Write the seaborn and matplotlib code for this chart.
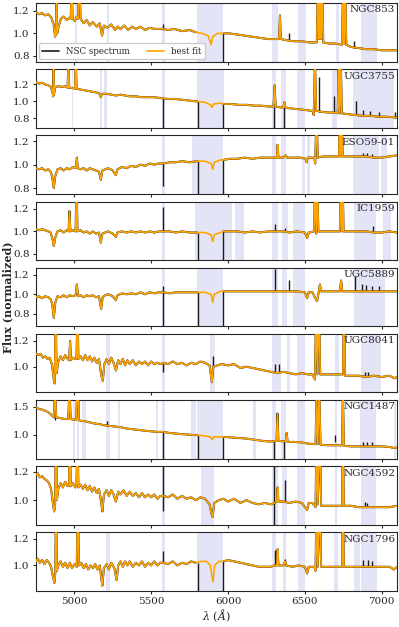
import numpy as np
import pandas as pd
import matplotlib
matplotlib.use("Agg")
import matplotlib.pyplot as plt
from matplotlib.lines import Line2D
import seaborn as sns

sns.set_theme(style="ticks")
plt.rcParams["font.family"] = ["DejaVu Serif"]
plt.rcParams["mathtext.fontset"] = "dejavuserif"
plt.rcParams["axes.linewidth"] = 0.8

names = ["NGC853", "UGC3755", "ESO59-01", "IC1959", "UGC5889",
         "UGC8041", "NGC1487", "NGC4592", "NGC1796"]
xticks = [5000, 5500, 6000, 6500, 7000]

# ---------------- NGC853 ----------------
ngc853_wl = [4750,4770,4790,4810,4830,4850,4865,4874,4880,4884,
             4888,4897,4912,4930,4950,4970,4976,4982,4988,5002,
             5016,5024,5029,5034,5040,5060,5080,5100,5120,5145,
             5165,5180,5192,5215,5240,5265,5280,5300,5325,5350,
             5375,5400,5430,5460,5490,5520,5550,5580,5610,5650,
             5700,5750,5790,5830,5870,5890,5900,5930,5970,6010,
             6060,6110,6160,6210,6260,6300,6332,6338,6344,6380,
             6430,6480,6530,6578,6586,6592,6600,6606,6612,6620,
             6660,6700,6742,6750,6756,6762,6770,6800,6850,6900,
             6950,7000,7050,7100]
ngc853_fit = [1.19,1.17,1.18,1.16,1.17,1.14,1.08,0.97,1.00,1.45,
              1.00,1.06,1.13,1.15,1.12,1.14,1.13,1.45,1.13,1.11,
              1.15,1.13,1.45,1.45,1.13,1.09,1.12,1.07,1.10,1.06,
              1.09,0.98,1.07,1.05,1.08,1.03,1.06,1.04,1.07,1.03,
              1.06,1.04,1.06,1.03,1.05,1.04,1.04,1.04,1.03,1.04,
              1.02,1.03,1.01,1.00,0.98,0.90,0.97,1.00,1.00,1.00,
              0.99,0.98,0.97,0.96,0.95,0.95,0.95,1.16,0.95,0.94,
              0.93,0.93,0.92,0.92,1.50,0.95,1.50,0.95,1.50,0.92,
              0.91,0.91,0.90,1.50,0.91,1.50,0.90,0.88,0.87,0.86,
              0.86,0.85,0.85,0.85]
ngc853_bx = [5577, 5970, 6397, 6822]
ngc853_blo = [1.03, 0.0, 0.94, 0.87]
ngc853_bhi = [1.08, 1.00, 1.00, 0.93]
ngc853_mlo = [5005, 5214, 5567, 5800, 6286, 6456, 6704, 6868]
ngc853_mhi = [5018, 5227, 5587, 5970, 6325, 6508, 6724, 6972]

# ---------------- UGC3755 ----------------
ugc3755_wl = [4750,4770,4790,4810,4830,4848,4858,4862,4864,4867,
              4875,4900,4920,4940,4956,4961,4966,4985,5004,5009,
              5014,5040,5070,5100,5130,5160,5172,5180,5210,5240,
              5270,5300,5330,5360,5400,5440,5480,5520,5560,5600,
              5650,5700,5750,5800,5850,5885,5895,5905,5950,5970,
              6020,6070,6120,6170,6220,6260,6296,6303,6310,6340,
              6360,6366,6372,6400,6450,6500,6540,6552,6558,6566,
              6574,6600,6650,6700,6714,6720,6727,6734,6741,6780,
              6830,6880,6930,6980,7030,7100]
ugc3755_fit = [1.23,1.21,1.22,1.20,1.19,1.17,1.10,1.06,1.50,1.08,
               1.17,1.18,1.17,1.18,1.16,1.50,1.16,1.16,1.15,1.50,
               1.15,1.14,1.13,1.12,1.11,1.10,1.05,1.09,1.09,1.08,
               1.07,1.08,1.07,1.06,1.06,1.05,1.05,1.05,1.04,1.03,
               1.03,1.02,1.01,1.00,0.99,0.96,0.93,0.97,0.98,0.97,
               0.97,0.96,0.96,0.95,0.95,0.94,0.94,1.19,0.94,0.93,
               0.93,0.99,0.93,0.92,0.91,0.90,0.89,0.89,0.84,1.50,
               0.89,0.88,0.87,0.87,0.86,1.50,0.86,1.50,0.86,0.85,
               0.84,0.83,0.83,0.82,0.82,0.81]
ugc3755_bx = [5577, 5802, 5970, 6300, 6364, 6595, 6689, 6835, 6880, 6925, 6985, 7085]
ugc3755_blo = [0.0, 0.0, 0.0, 0.0, 0.0, 0.88, 0.87, 0.84, 0.83, 0.83, 0.82, 0.81]
ugc3755_bhi = [1.04, 1.00, 0.97, 0.94, 0.93, 1.29, 1.06, 1.01, 0.90, 0.89, 0.87, 0.87]
ugc3755_mlo = [4985, 5168, 5194, 5567, 5800, 6286, 6345, 6449, 6678, 6815]
ugc3755_mhi = [4992, 5181, 5214, 5587, 5972, 6312, 6378, 6502, 6711, 7083]

# ---------------- ESO59-01 ----------------
eso5901_wl = [4750,4770,4790,4810,4830,4845,4855,4866,4875,4890,
              4910,4930,4950,4970,4990,5010,5016,5022,5040,5060,
              5080,5100,5120,5140,5160,5172,5182,5200,5220,5250,
              5270,5280,5310,5340,5370,5400,5430,5460,5490,5520,
              5550,5580,5620,5660,5700,5750,5800,5850,5890,5900,
              5910,5950,5970,6010,6060,6110,6160,6210,6260,6300,
              6318,6323,6328,6360,6375,6385,6420,6470,6505,6512,
              6520,6560,6568,6576,6584,6620,6680,6722,6728,6734,
              6740,6746,6752,6800,6850,6900,6950,7000,7050,7100]
eso5901_fit = [0.97,0.96,0.97,0.95,0.96,0.94,0.90,0.80,0.90,0.96,
               0.97,0.95,0.97,0.96,0.98,0.97,1.06,0.97,0.96,0.97,
               0.95,0.97,0.96,0.95,0.94,0.87,0.95,0.96,0.97,0.95,
               0.91,0.96,0.98,0.97,0.99,0.98,1.00,0.99,1.01,1.00,
               1.01,1.01,1.02,1.02,1.03,1.02,1.03,1.03,1.01,0.96,
               1.02,1.04,1.04,1.05,1.05,1.06,1.05,1.06,1.06,1.06,
               1.06,1.17,1.06,1.06,1.08,1.06,1.06,1.06,1.05,1.02,
               1.06,1.06,1.01,1.50,1.06,1.07,1.07,1.07,1.50,1.07,
               1.50,1.07,1.07,1.07,1.07,1.07,1.06,1.06,1.07,1.08]
eso5901_bx = [5577, 5802, 5970, 6880, 6905, 6935]
eso5901_blo = [0.82, 0.0, 0.0, 1.07, 1.07, 1.07]
eso5901_bhi = [1.01, 1.03, 1.04, 1.10, 1.10, 1.09]
eso5901_mlo = [5567, 5768, 6286, 6345, 6480, 6515, 6815, 6998]
eso5901_mhi = [5587, 5970, 6312, 6378, 6502, 6532, 6985, 7038]

# ---------------- IC1959 ----------------
ic1959_wl = [4750,4770,4790,4810,4830,4845,4856,4866,4876,4890,
             4910,4930,4950,4962,4968,4974,4990,5008,5014,5020,
             5040,5060,5080,5100,5120,5140,5160,5172,5182,5200,
             5220,5250,5270,5280,5310,5340,5370,5400,5430,5460,
             5490,5520,5550,5580,5620,5660,5700,5750,5800,5850,
             5890,5900,5910,5950,5970,6010,6060,6110,6160,6210,
             6260,6300,6360,6400,6450,6500,6515,6525,6560,6568,
             6574,6580,6588,6620,6680,6728,6735,6741,6746,6752,
             6800,6850,6900,6950,7000,7050,7100]
ic1959_fit = [1.02,1.01,1.02,1.01,1.00,0.99,0.94,0.87,0.95,1.00,
              1.01,0.99,1.01,1.00,1.18,1.00,1.01,1.00,1.50,1.00,
              1.01,0.99,1.00,0.98,1.00,0.98,0.99,0.90,0.98,0.99,
              1.00,0.98,0.95,0.99,1.00,0.99,1.00,0.99,1.00,0.99,
              1.00,0.99,1.00,1.00,1.00,0.99,1.00,0.99,0.99,0.99,
              0.97,0.91,0.97,0.99,1.00,1.00,1.00,0.99,1.00,0.99,
              1.00,1.00,1.00,0.99,1.00,0.99,0.94,0.99,1.00,1.50,
              0.98,1.50,1.00,1.00,1.00,1.00,1.50,1.00,1.50,1.00,
              1.00,1.00,1.00,0.99,0.99,1.00,0.99]
ic1959_bx = [5577, 5802, 5970, 6308, 6371, 6944]
ic1959_blo = [1.00, 0.0, 0.0, 1.00, 1.00, 1.00]
ic1959_bhi = [1.22, 0.99, 1.00, 1.065, 1.03, 1.047]
ic1959_mlo = [5567, 5783, 6044, 6284, 6349, 6423, 6820, 7009]
ic1959_mhi = [5587, 6023, 6101, 6327, 6389, 6502, 6966, 7064]

# ---------------- UGC5889 ----------------
ugc5889_wl = [4750,4770,4790,4810,4830,4845,4856,4866,4876,4890,
              4910,4930,4950,4970,4990,5008,5016,5024,5040,5060,
              5080,5100,5120,5140,5160,5174,5184,5200,5220,5250,
              5270,5280,5310,5340,5370,5400,5430,5460,5490,5520,
              5550,5580,5620,5660,5700,5750,5800,5850,5890,5900,
              5910,5950,5970,6010,6060,6110,6160,6210,6260,6300,
              6360,6400,6450,6500,6515,6525,6550,6565,6580,6590,
              6598,6606,6650,6700,6728,6736,6744,6800,6850,6900,
              6950,7000,7050,7100]
ugc5889_fit = [0.97,0.98,0.96,0.98,0.97,0.95,0.90,0.76,0.92,0.98,
               0.97,0.99,0.97,0.99,0.98,0.99,1.10,0.98,0.99,0.97,
               0.99,0.98,0.99,0.97,0.98,0.85,0.97,0.99,1.00,0.98,
               0.94,0.99,1.01,1.00,1.01,1.00,1.02,1.00,1.02,1.01,
               1.02,1.02,1.01,1.02,1.02,1.02,1.02,1.02,1.00,0.92,
               1.00,1.03,1.03,1.03,1.03,1.03,1.03,1.03,1.03,1.03,
               1.03,1.03,1.03,1.02,0.96,1.02,1.02,0.97,0.93,1.02,
               1.10,1.03,1.03,1.03,1.03,1.14,1.03,1.03,1.03,1.03,
               1.03,1.03,1.03,1.03]
ugc5889_bx = [5577, 5802, 5970, 6306, 6395, 6824, 6870, 6900, 6940, 6985]
ugc5889_blo = [0.0, 0.0, 0.0, 1.03, 1.03, 1.03, 1.03, 1.03, 1.03, 1.03]
ugc5889_bhi = [1.08, 1.02, 1.03, 1.26, 1.15, 1.19, 1.10, 1.09, 1.08, 1.08]
ugc5889_mlo = [5567, 5800, 6284, 6349, 6423, 6820]
ugc5889_mhi = [5587, 5970, 6327, 6384, 6502, 7020]

# ---------------- UGC8041 ----------------
ugc8041_wl = [4750,4765,4780,4795,4810,4825,4840,4855,4866,4872,
              4878,4884,4895,4910,4925,4940,4955,4966,4972,4978,
              4990,5005,5014,5020,5026,5040,5055,5070,5085,5100,
              5115,5130,5145,5160,5175,5185,5195,5210,5225,5240,
              5255,5270,5285,5300,5315,5330,5345,5360,5380,5400,
              5420,5440,5460,5480,5500,5520,5540,5560,5580,5610,
              5640,5670,5700,5730,5760,5790,5820,5850,5880,5895,
              5905,5930,5960,6000,6040,6080,6120,6160,6200,6240,
              6280,6320,6360,6400,6440,6480,6520,6550,6566,6574,
              6582,6592,6600,6650,6700,6748,6755,6762,6800,6850,
              6900,6950,7000,7050,7085,7100]
ugc8041_fit = [1.10,1.09,1.10,1.07,1.08,1.06,1.07,1.01,0.90,0.87,
               1.50,0.95,1.04,1.08,1.05,1.09,1.06,1.05,1.20,1.05,
               1.07,1.06,1.06,1.50,1.06,1.08,1.05,1.09,1.05,1.08,
               1.04,1.07,1.03,1.06,0.93,0.89,1.02,1.06,1.02,1.07,
               1.03,0.97,1.05,1.02,1.06,1.01,1.05,1.02,1.05,1.01,
               1.04,1.02,1.04,1.01,1.04,1.02,1.03,1.02,1.03,1.02,
               1.04,1.02,1.03,1.01,1.03,1.02,1.04,1.03,1.01,0.88,
               1.00,1.01,1.02,1.01,1.02,0.99,1.00,0.99,0.98,0.97,
               0.96,0.95,0.96,0.95,0.94,0.95,0.94,0.94,0.90,1.50,
               0.94,1.50,0.94,0.94,0.94,0.94,1.50,0.93,0.93,0.93,
               0.92,0.93,0.92,0.93,0.91,0.92]
ugc8041_bx = [5577, 5905, 6308, 6330, 6890, 6910]
ugc8041_blo = [0.96, 1.00, 0.96, 0.96, 0.93, 0.93]
ugc8041_bhi = [1.03, 1.085, 1.02, 1.02, 0.96, 0.96]
ugc8041_mlo = [5208, 5567, 5881, 6284, 6384, 6449, 6698, 6868]
ugc8041_mhi = [5234, 5587, 5913, 6345, 6404, 6502, 6724, 6994]

# ---------------- NGC1487 ----------------
ngc1487_wl = [4750,4770,4790,4810,4830,4845,4855,4866,4874,4882,
              4900,4920,4940,4960,4968,4976,4990,5005,5012,5018,
              5024,5030,5040,5070,5100,5130,5160,5190,5220,5250,
              5280,5310,5340,5370,5400,5430,5460,5500,5540,5580,
              5620,5660,5700,5750,5800,5850,5885,5897,5908,5950,
              5970,6020,6070,6120,6170,6220,6260,6300,6316,6322,
              6328,6360,6376,6382,6388,6430,6480,6520,6560,6570,
              6576,6584,6594,6602,6650,6700,6742,6748,6754,6800,
              6850,6900,6950,7000,7050,7085,7100]
ngc1487_fit = [1.49,1.46,1.45,1.43,1.40,1.37,1.34,1.31,1.80,1.31,
               1.30,1.29,1.28,1.28,1.80,1.28,1.27,1.27,1.26,1.80,
               1.80,1.26,1.25,1.24,1.22,1.20,1.19,1.17,1.16,1.15,
               1.14,1.13,1.11,1.10,1.09,1.08,1.07,1.06,1.05,1.05,
               1.03,1.02,1.01,1.00,0.99,0.98,0.96,0.91,0.96,0.96,
               0.96,0.95,0.94,0.93,0.91,0.89,0.88,0.88,0.89,1.38,
               0.89,0.88,0.88,1.03,0.87,0.87,0.86,0.84,0.83,0.83,
               1.80,0.83,1.80,0.82,0.81,0.81,0.81,1.80,0.80,0.79,
               0.79,0.79,0.79,0.79,0.78,0.76,0.77]
ngc1487_bx = [4874, 5212, 5577, 5802, 5970, 6300, 6364, 6698, 6880, 6905, 6935]
ngc1487_blo = [1.26, 1.17, 0.0, 0.0, 0.0, 0.0, 0.0, 0.87, 0.79, 0.79, 0.79]
ngc1487_bhi = [1.31, 1.25, 1.05, 0.99, 0.96, 0.88, 0.88, 0.99, 0.87, 0.86, 0.86]
ngc1487_mlo = [4990, 5018, 5049, 5208, 5281, 5528, 5567, 5761, 5800,
               6160, 6284, 6345, 6449, 6698, 6862, 7081]
ngc1487_mhi = [5005, 5031, 5077, 5229, 5294, 5543, 5587, 5789, 5970,
               6181, 6312, 6378, 6502, 6711, 6966, 7096]

# ---------------- NGC4592 ----------------
ngc4592_wl = [4750,4762,4775,4790,4805,4820,4835,4848,4860,4868,
              4874,4880,4886,4895,4910,4925,4940,4955,4965,4970,
              4976,4990,5005,5014,5020,5026,5040,5055,5070,5085,
              5100,5115,5130,5145,5160,5175,5182,5192,5210,5225,
              5240,5255,5270,5285,5300,5320,5340,5360,5380,5400,
              5420,5440,5460,5480,5500,5520,5540,5560,5580,5610,
              5640,5670,5700,5730,5760,5790,5820,5850,5880,5893,
              5900,5910,5940,5970,6000,6040,6080,6120,6160,6200,
              6240,6280,6300,6318,6323,6328,6360,6400,6440,6480,
              6515,6525,6550,6570,6576,6584,6598,6606,6650,6700,
              6742,6748,6754,6800,6850,6900,6950,7000,7050,7100]
ngc4592_fit = [1.18,1.19,1.16,1.17,1.15,1.14,1.12,1.08,0.98,0.92,
               0.95,1.50,1.00,1.08,1.12,1.09,1.13,1.10,1.10,1.50,
               1.10,1.12,1.09,1.11,1.50,1.09,1.11,1.08,1.11,1.07,
               1.10,1.06,1.09,1.05,1.08,0.98,0.92,1.04,1.07,1.03,
               1.07,1.04,0.99,1.06,1.04,1.07,1.03,1.06,1.03,1.05,
               1.02,1.05,1.02,1.04,1.02,1.04,1.01,1.03,1.03,1.02,
               1.04,1.01,1.03,1.01,1.02,1.00,1.02,1.01,0.97,0.90,
               0.88,0.98,1.00,1.01,0.99,1.01,0.98,1.00,0.98,0.97,
               0.98,0.97,0.98,0.99,1.09,0.99,0.99,0.98,0.99,0.98,
               0.93,0.98,0.98,0.95,1.50,0.97,1.50,0.96,0.96,0.96,
               0.96,1.50,0.96,0.96,0.95,0.95,0.95,0.95,0.95,0.96]
ngc4592_bx = [5577, 6300, 6371, 6890, 6905]
ngc4592_blo = [0.92, 0.0, 0.99, 0.95, 0.95]
ngc4592_bhi = [1.30, 1.30, 1.14, 0.99, 0.98]
ngc4592_mlo = [5567, 5822, 6284, 6349, 6449, 6698, 6868]
ngc4592_mhi = [5587, 5909, 6323, 6384, 6502, 6711, 6966]

# ---------------- NGC1796 ----------------
ngc1796_wl = [4750,4762,4775,4790,4805,4820,4835,4848,4860,4870,
              4876,4880,4886,4895,4910,4925,4940,4955,4970,4985,
              5000,5015,5022,5030,5045,5060,5075,5090,5105,5120,
              5135,5150,5165,5176,5182,5192,5210,5225,5240,5260,
              5275,5285,5300,5315,5330,5345,5360,5380,5400,5420,
              5440,5460,5480,5500,5520,5540,5560,5580,5610,5640,
              5670,5700,5730,5760,5790,5820,5860,5885,5895,5903,
              5912,5940,5970,6000,6040,6080,6120,6160,6200,6240,
              6280,6300,6318,6323,6328,6360,6372,6380,6420,6460,
              6500,6515,6525,6560,6570,6576,6584,6598,6606,6650,
              6700,6742,6748,6754,6800,6850,6900,6950,7000,7050,
              7080,7100]
ngc1796_fit = [1.03,1.05,1.02,1.04,1.01,1.04,1.02,0.99,0.92,0.87,
               0.95,1.50,0.96,1.00,1.03,0.99,1.02,0.98,1.02,0.98,
               1.01,0.99,1.50,1.00,1.02,0.98,1.01,0.97,1.00,0.98,
               1.01,0.97,1.00,0.90,0.85,0.98,1.01,0.97,1.02,0.98,
               0.89,1.00,1.03,0.99,1.03,1.00,1.03,0.99,1.02,1.00,
               1.03,0.99,1.02,1.00,1.03,1.00,1.02,1.02,1.01,1.03,
               1.00,1.02,1.01,1.03,1.02,1.03,1.03,1.00,0.92,0.88,
               1.00,1.03,1.03,1.04,1.03,1.02,1.01,1.00,0.99,0.99,
               0.99,1.00,1.00,1.12,1.00,1.00,1.03,1.00,0.99,1.00,
               0.99,0.94,0.99,0.99,0.96,1.50,0.99,1.50,0.99,0.99,
               0.99,0.99,1.50,0.99,0.99,0.99,0.99,0.99,0.99,0.99,
               0.97,0.99]
ngc1796_bx = [5577, 5802, 5970, 6308, 6371, 6880, 6910, 6940]
ngc1796_blo = [1.02, 0.0, 0.0, 1.00, 1.00, 0.99, 0.99, 0.99]
ngc1796_bhi = [1.105, 1.02, 1.03, 1.118, 1.05, 1.04, 1.04, 1.03]
ngc1796_mlo = [5208, 5567, 5800, 6284, 6356, 6453, 6691, 6820, 6868]
ngc1796_mhi = [5234, 5587, 5970, 6312, 6378, 6503, 6715, 6857, 6972]

# chip gap where the spectrum has no data (None = no gap)
gaps = [(5802, 5968), (5802, 5968), (5802, 5968), (5802, 5968), (5802, 5968),
        None, (5802, 5968), None, (5802, 5968)]
ylims = [(0.75, 1.27), (0.69, 1.38), (0.75, 1.25), (0.745, 1.265), (0.675, 1.27),
         (0.80, 1.254), (0.57, 1.62), (0.825, 1.24), (0.81, 1.245)]
yticks = [[0.8, 1.0, 1.2]] * 5 + [[1.0, 1.2], [1.0, 1.5], [1.0, 1.2], [1.0, 1.2]]

panels = [
    (ngc853_wl, ngc853_fit, ngc853_bx, ngc853_blo, ngc853_bhi, ngc853_mlo, ngc853_mhi),
    (ugc3755_wl, ugc3755_fit, ugc3755_bx, ugc3755_blo, ugc3755_bhi, ugc3755_mlo, ugc3755_mhi),
    (eso5901_wl, eso5901_fit, eso5901_bx, eso5901_blo, eso5901_bhi, eso5901_mlo, eso5901_mhi),
    (ic1959_wl, ic1959_fit, ic1959_bx, ic1959_blo, ic1959_bhi, ic1959_mlo, ic1959_mhi),
    (ugc5889_wl, ugc5889_fit, ugc5889_bx, ugc5889_blo, ugc5889_bhi, ugc5889_mlo, ugc5889_mhi),
    (ugc8041_wl, ugc8041_fit, ugc8041_bx, ugc8041_blo, ugc8041_bhi, ugc8041_mlo, ugc8041_mhi),
    (ngc1487_wl, ngc1487_fit, ngc1487_bx, ngc1487_blo, ngc1487_bhi, ngc1487_mlo, ngc1487_mhi),
    (ngc4592_wl, ngc4592_fit, ngc4592_bx, ngc4592_blo, ngc4592_bhi, ngc4592_mlo, ngc4592_mhi),
    (ngc1796_wl, ngc1796_fit, ngc1796_bx, ngc1796_blo, ngc1796_bhi, ngc1796_mlo, ngc1796_mhi),
]

MASK = "#e4e4f7"
ORANGE = "#ffa500"

fig, axes = plt.subplots(9, 1, figsize=(3.99, 6.27), dpi=100, sharex=True)
fig.subplots_adjust(left=0.0902, right=0.995, top=0.9952, bottom=0.0574, hspace=0.13)

for i, ax in enumerate(axes):
    wl, fit, bx, blo, bhi, mlo, mhi = panels[i]
    for lo, hi in zip(mlo, mhi):
        ax.axvspan(lo, hi, color=MASK, lw=0, zorder=0)
    df = pd.DataFrame({"wl": wl, "flux": fit})
    gap = gaps[i]
    if gap is None:
        parts = [df]
    else:
        parts = [df[df.wl < gap[0]], df[df.wl > gap[1]]]
    for part in parts:
        sns.lineplot(data=part, x="wl", y="flux", ax=ax, color="k", lw=1.45,
                     estimator=None, sort=False, zorder=2)
    ax.vlines(bx, blo, bhi, color="k", lw=1.0, zorder=2)
    sns.lineplot(data=df, x="wl", y="flux", ax=ax, color=ORANGE, lw=1.2,
                 estimator=None, sort=False, zorder=3)
    ax.set_xlim(4750, 7100)
    ax.set_ylim(*ylims[i])
    ax.set_yticks(yticks[i])
    ax.set_xticks(xticks)
    ax.set_xlabel("")
    ax.set_ylabel("")
    ax.tick_params(labelsize=7.5, length=2.5, width=0.8, pad=2)
    for s in ax.spines.values():
        s.set_linewidth(0.8)
    ax.text(0.995, 0.96, names[i], transform=ax.transAxes, ha="right", va="top",
            fontsize=7.5, zorder=5)

handles = [Line2D([], [], color="k", lw=1.2), Line2D([], [], color=ORANGE, lw=1.2)]
axes[0].legend(handles, ["NSC spectrum", "best fit"], loc="lower left", ncol=2,
               fontsize=6.2, borderaxespad=0.3, framealpha=1.0)

axes[-1].set_xlabel(r"$\lambda\ (\AA)$", fontsize=8, labelpad=1)
fig.text(0.02, 0.526, "Flux (normalized)", rotation=90, ha="center", va="center",
         fontsize=8, fontweight="bold")

fig.savefig("out.png", dpi=100)
